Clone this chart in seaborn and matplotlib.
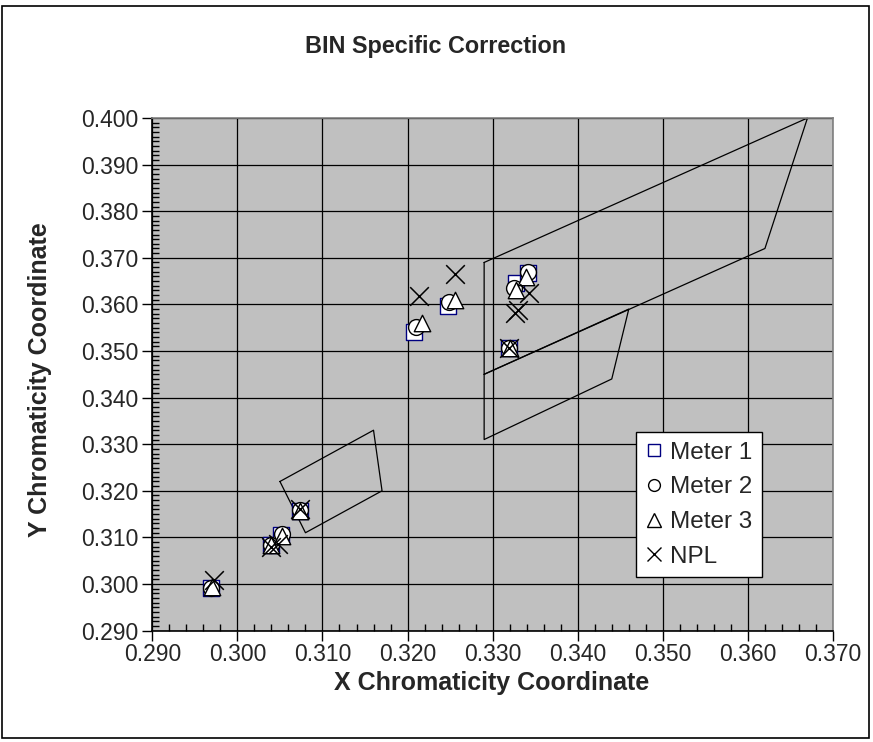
import numpy as np
import pandas as pd
import seaborn as sns
import matplotlib
matplotlib.use('Agg')
import matplotlib.pyplot as plt
from matplotlib.lines import Line2D
from matplotlib.patches import Rectangle
from matplotlib.ticker import MultipleLocator, FormatStrFormatter

# ---------------- data ----------------
m1_x = [0.2969, 0.3039, 0.3051, 0.3073, 0.3207, 0.3248, 0.3319, 0.3328, 0.3342]
m1_y = [0.2991, 0.3084, 0.3105, 0.3157, 0.3541, 0.3597, 0.3506, 0.3645, 0.3667]

m2_x = [0.2969, 0.3040, 0.3052, 0.3073, 0.3210, 0.3249, 0.3319, 0.3325, 0.3342]
m2_y = [0.2992, 0.3084, 0.3107, 0.3158, 0.3551, 0.3606, 0.3507, 0.3635, 0.3670]

m3_x = [0.2970, 0.3040, 0.3052, 0.3074, 0.3217, 0.3256, 0.3320, 0.3327, 0.3339]
m3_y = [0.2993, 0.3083, 0.3104, 0.3157, 0.3560, 0.3609, 0.3507, 0.3630, 0.3659]

npl_x = [0.2973, 0.3040, 0.3048, 0.3074, 0.3214, 0.3256, 0.3319, 0.3326, 0.3330, 0.3343]
npl_y = [0.3009, 0.3079, 0.3085, 0.3162, 0.3618, 0.3665, 0.3506, 0.3582, 0.3588, 0.3625]

bin_small_x = [0.305, 0.316, 0.317, 0.308, 0.305]
bin_small_y = [0.322, 0.333, 0.320, 0.311, 0.322]
bin_upper_x = [0.329, 0.367, 0.362, 0.329, 0.329]
bin_upper_y = [0.369, 0.400, 0.372, 0.345, 0.369]
bin_lower_x = [0.329, 0.346, 0.344, 0.329, 0.329]
bin_lower_y = [0.345, 0.359, 0.344, 0.331, 0.345]

series_names = ["Meter 1", "Meter 2", "Meter 3", "NPL"]
title = "BIN Specific Correction"
xlabel = "X Chromaticity Coordinate"
ylabel = "Y Chromaticity Coordinate"

# ---------------- style ----------------
sns.set_style('white')
plt.rcParams['font.family'] = ['Liberation Sans', 'DejaVu Sans']

W, H = 873, 742
fig = plt.figure(figsize=(W / 100, H / 100), dpi=100)
fig.patch.set_facecolor('white')

left, right, top, bottom = 152.3, 833.0, 118.0, 630.6
ax = fig.add_axes([left / W, 1 - bottom / H, (right - left) / W, (bottom - top) / H])
ax.set_facecolor('#C0C0C0')

# BIN polygons
for px, py in [(bin_small_x, bin_small_y), (bin_upper_x, bin_upper_y), (bin_lower_x, bin_lower_y)]:
    ax.plot(px, py, color='black', lw=0.9, zorder=2, clip_on=False)

# series
sns.scatterplot(x=m1_x, y=m1_y, marker='s', s=120, color='white', edgecolor='#000080',
                linewidth=1.0, ax=ax, zorder=3)
sns.scatterplot(x=m2_x, y=m2_y, marker='o', s=130, color='white', edgecolor='black',
                linewidth=1.0, ax=ax, zorder=4)
sns.scatterplot(x=m3_x, y=m3_y, marker='^', s=140, color='white', edgecolor='black',
                linewidth=1.0, ax=ax, zorder=5)
sns.scatterplot(x=npl_x, y=npl_y, marker='x', s=180, color='black',
                linewidth=1.1, ax=ax, zorder=6)

ax.set_xlim(0.290, 0.370)
ax.set_ylim(0.290, 0.400)
ax.xaxis.set_major_locator(MultipleLocator(0.010))
ax.yaxis.set_major_locator(MultipleLocator(0.010))
ax.xaxis.set_minor_locator(MultipleLocator(0.002))
ax.yaxis.set_minor_locator(MultipleLocator(0.001))
ax.xaxis.set_major_formatter(FormatStrFormatter('%.3f'))
ax.yaxis.set_major_formatter(FormatStrFormatter('%.3f'))
ax.grid(True, which='major', color='black', lw=0.9)
ax.set_axisbelow(True)

ax.tick_params(which='major', direction='out', length=7, width=1, color='black',
               labelsize=16.5, bottom=True, left=True)
ax.tick_params(axis='x', which='major', pad=2)
ax.tick_params(axis='y', which='major', pad=3)
ax.tick_params(which='minor', direction='in', length=5, width=1, color='black',
               bottom=True, left=True)

for s in ['left', 'bottom']:
    ax.spines[s].set_color('black')
    ax.spines[s].set_linewidth(1.2)
for s in ['top', 'right']:
    ax.spines[s].set_color('#808080')
    ax.spines[s].set_linewidth(1.2)

ax.set_xlabel(xlabel, fontsize=18, fontweight='bold')
ax.set_ylabel(ylabel, fontsize=18, fontweight='bold')
ax.xaxis.label.set_va('center')
ax.yaxis.label.set_va('center')
ax.xaxis.set_label_coords((492 - left) / (right - left), (bottom - 683) / (bottom - top))
ax.yaxis.set_label_coords((40 - left) / (right - left), (bottom - 380) / (bottom - top))
fig.text(436 / W, 1 - 47 / H, title, ha='center', va='center', fontsize=16.8, fontweight='bold')

handles = [
    Line2D([], [], ls='none', marker='s', ms=8, mfc='white', mec='#000080', mew=1.0),
    Line2D([], [], ls='none', marker='o', ms=8.5, mfc='white', mec='black', mew=1.0),
    Line2D([], [], ls='none', marker='^', ms=9.5, mfc='white', mec='black', mew=1.0),
    Line2D([], [], ls='none', marker='x', ms=10, color='black', mew=1.0),
]
leg = ax.legend(handles, series_names, loc='upper left',
                bbox_to_anchor=((636 - left) / (right - left), (bottom - 432) / (bottom - top)),
                fontsize=17.5, frameon=True, fancybox=False, framealpha=1,
                edgecolor='black', handlelength=0.7, handletextpad=0.3,
                labelspacing=0.52, borderpad=0.4, borderaxespad=0)
leg.get_frame().set_linewidth(1.0)
leg.set_zorder(10)

# outer chart border
fig.patches.append(Rectangle((2 / W, 4 / H), 867 / W, 732 / H, transform=fig.transFigure,
                             fill=False, edgecolor='black', lw=1.2))

fig.savefig('out.png', dpi=100)
